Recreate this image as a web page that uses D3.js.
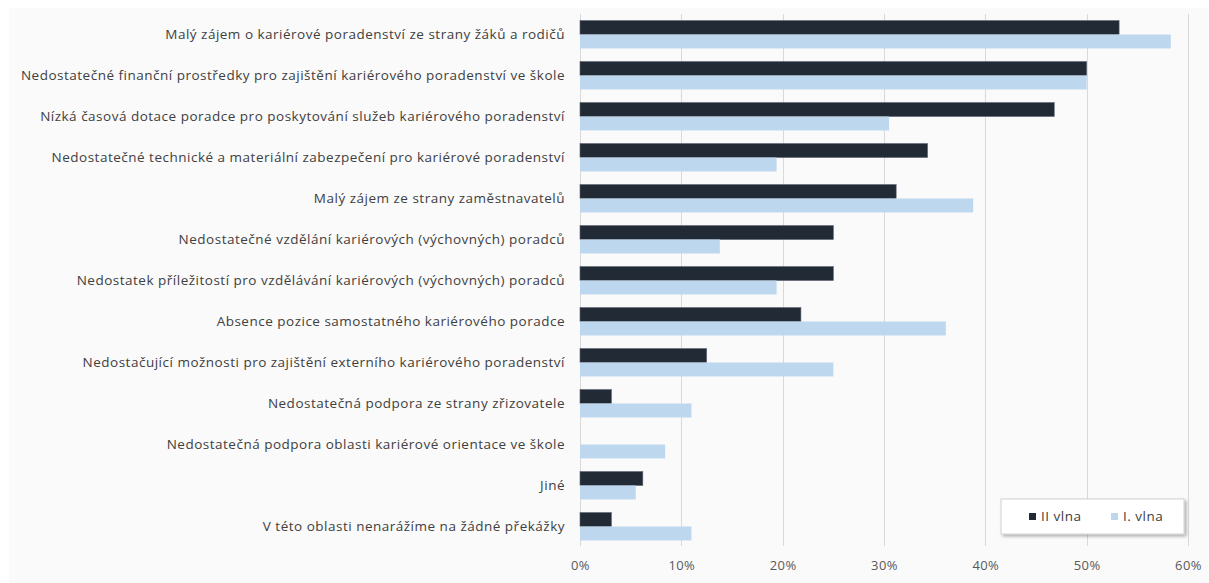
<!DOCTYPE html>
<html><head><meta charset="utf-8">
<script src="https://cdn.jsdelivr.net/npm/d3@7"></script>
<style>
html,body{margin:0;padding:0;background:#fff;}
svg{display:block;}
text{font-family:"Open Sans", "Liberation Sans", sans-serif;}
</style></head>
<body><svg id="c" width="1209" height="583"></svg>
<script>
const categories = [
  "Malý zájem o kariérové poradenství ze strany žáků a rodičů",
  "Nedostatečné finanční prostředky pro zajištění kariérového poradenství ve škole",
  "Nízká časová dotace poradce pro poskytování služeb kariérového poradenství",
  "Nedostatečné technické a materiální zabezpečení pro kariérové poradenství",
  "Malý zájem ze strany zaměstnavatelů",
  "Nedostatečné vzdělání kariérových (výchovných) poradců",
  "Nedostatek příležitostí pro vzdělávání kariérových (výchovných) poradců",
  "Absence pozice samostatného kariérového poradce",
  "Nedostačující možnosti pro zajištění externího kariérového poradenství",
  "Nedostatečná podpora ze strany zřizovatele",
  "Nedostatečná podpora oblasti kariérové orientace ve škole",
  "Jiné",
  "V této oblasti nenarážíme na žádné překážky"
];
const seriesNames = ["II vlna", "I. vlna"];
const wave2 = [53.2, 50.0, 46.8, 34.3, 31.2, 25.0, 25.0, 21.8, 12.5, 3.1, 0, 6.2, 3.1];
const wave1 = [58.3, 50.0, 30.5, 19.4, 38.8, 13.8, 19.4, 36.1, 25.0, 11.0, 8.4, 5.5, 11.0];
const tickValues = [0, 10, 20, 30, 40, 50, 60];
const colors = ["#222a35", "#bdd7ee"];

const svg = d3.select("#c");
const W = 1209, H = 583;
const FONT = "'Open Sans', 'Liberation Sans', sans-serif";

// panel background
svg.append("rect").attr("x", 9).attr("y", 8).attr("width", W - 9).attr("height", H - 8).attr("fill", "#fafafa");

const x = d3.scaleLinear().domain([0, 60]).range([580, 1188]);
const y = d3.scaleBand().domain(categories).range([14, 547]).paddingInner(0.32).paddingOuter(0.16);
const ySub = d3.scaleBand().domain(seriesNames).range([0, y.bandwidth()]);

// gridlines
svg.append("g").selectAll("line").data(tickValues).join("line")
  .attr("x1", d => Math.round(x(d)) + 0.5).attr("x2", d => Math.round(x(d)) + 0.5)
  .attr("y1", 14).attr("y2", 546)
  .attr("stroke", "#d9d9d9").attr("stroke-width", 1);

// x axis labels
const xAxis = d3.axisBottom(x).tickValues(tickValues).tickFormat(d => d + "%").tickSize(0).tickPadding(0);
const gx = svg.append("g").attr("transform", "translate(0,561)").call(xAxis);
gx.select(".domain").remove();
gx.selectAll("text").attr("font-size", 13).attr("fill", "#595959").attr("dy", "0.71em")
  .style("font-family", FONT).style("letter-spacing", "0.4px");

// y labels
const yAxis = d3.axisLeft(y).tickSize(0).tickPadding(0);
const gy = svg.append("g").attr("transform", "translate(565,0)").call(yAxis);
gy.select(".domain").remove();
gy.selectAll("text").attr("font-size", 13.5).attr("fill", "#404040")
  .style("font-family", FONT).style("letter-spacing", "0.5px");

// bars
const data = [wave2, wave1];
data.forEach((vals, si) => {
  svg.append("g").selectAll("rect").data(vals).join("rect")
    .attr("x", x(0))
    .attr("y", (d, i) => y(categories[i]) + ySub(seriesNames[si]))
    .attr("width", d => x(d) - x(0))
    .attr("height", ySub.bandwidth())
    .attr("fill", colors[si])
    .attr("stroke", si === 0 ? "#5a6270" : "none")
    .attr("stroke-width", si === 0 ? 0.6 : 0);
});

// legend
const lg = svg.append("g").attr("transform", "translate(1001,499)");
const defs = svg.append("defs");
const f = defs.append("filter").attr("id", "sh").attr("x", "-10%").attr("y", "-20%").attr("width", "130%").attr("height", "160%");
f.append("feDropShadow").attr("dx", 2).attr("dy", 2).attr("stdDeviation", 1.5).attr("flood-color", "#000").attr("flood-opacity", 0.3);
lg.append("rect").attr("width", 183).attr("height", 35).attr("fill", "#fff").attr("stroke", "#d0d0d0").attr("filter", "url(#sh)");
const items = [{n: seriesNames[0], c: colors[0], x: 28}, {n: seriesNames[1], c: colors[1], x: 110}];
items.forEach(it => {
  lg.append("rect").attr("x", it.x).attr("y", 14).attr("width", 7).attr("height", 7).attr("fill", it.c);
  lg.append("text").attr("x", it.x + 12).attr("y", 17.5).attr("dy", "0.35em").attr("font-size", 13.5)
    .style("letter-spacing", "0.5px").attr("fill", "#404040").text(it.n);
});
</script></body></html>
